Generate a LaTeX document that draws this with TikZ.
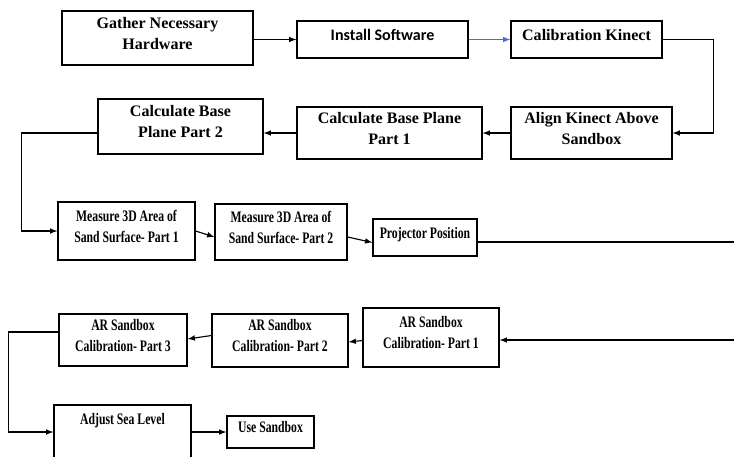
\documentclass[tikz,border=0pt]{standalone}
\usepackage{fontspec}
\setmainfont{Liberation Serif}
\newfontfamily\narrowserif[FakeStretch=0.73]{Liberation Serif}
\newfontfamily\calibrisans{Carlito}
\usetikzlibrary{calc}
\definecolor{wordblue}{RGB}{68,114,196}

\begin{document}
\begin{tikzpicture}[x=0.025cm, y=-0.025cm,
	box/.style={draw, line width=0.9pt, align=center, inner sep=2pt, text depth=7pt, font=\fontsize{11.4}{15}\selectfont\bfseries},
	narrowbox/.style={box, font=\narrowserif\fontsize{11.4}{15}\selectfont\bfseries},
	dims/.style 2 args={minimum width=#1*0.025cm, minimum height=#2*0.025cm},
	link/.style={->, >=latex, line width=0.8pt}]

	\clip (0,0) rectangle (734,456);

	\node[box, dims={191}{54}] (gather) at (157.5,38) {Gather Necessary\\Hardware};
	\node[box, dims={171}{37}, font=\calibrisans\fontsize{11.4}{15}\selectfont\bfseries] (install) at (382.5,39.5) {Install Software};
	\node[box, dims={151}{37}] (calib) at (586.5,39.5) {Calibration Kinect};

	\node[box, dims={161}{52}] (align) at (591.5,133) {Align Kinect Above\\Sandbox};
	\node[box, dims={185}{52}] (base1) at (389.5,133) {Calculate Base Plane\\Part 1};
	\node[box, dims={165}{55}] (base2) at (180.5,126.5) {Calculate Base\\Plane Part 2};

	\node[narrowbox, dims={137}{58}] (measure1) at (126.5,231) {Measure 3D Area of\\Sand Surface- Part 1};
	\node[narrowbox, dims={132}{56}] (measure2) at (281,232) {Measure 3D Area of\\Sand Surface- Part 2};
	\node[narrowbox, dims={104}{37}] (projector) at (425,237.5) {Projector Position};

	\node[narrowbox, dims={136}{59}] (sandbox1) at (431,337.5) {AR Sandbox\\Calibration- Part 1};
	\node[narrowbox, dims={136}{53}] (sandbox2) at (280,340.5) {AR Sandbox\\Calibration- Part 2};
	\node[narrowbox, dims={128}{52}] (sandbox3) at (123,340) {AR Sandbox\\Calibration- Part 3};

	\node[narrowbox, dims={137}{54}, text depth=3pt] (sealevel) at (122.5,432) {Adjust Sea Level\\\strut};
	\node[narrowbox, dims={87}{32}] (usesandbox) at (270.5,432) {Use Sandbox};

	\coordinate (rightin) at (734,340);

	\draw[link] (gather.east |- install.west) -- (install.west);
	\draw[link, wordblue] (install.east) -- (calib.west);
	\draw[link] (calib.east) -- ++(51,0) |- (align.east);
	\draw[link] (align.west) -- (base1.east);
	\draw[link] (base1.west) -- (base1.west -| base2.east);
	\draw[link] ($(base2.west)+(0,6.5)$) -- ++(-76,0) |- (measure1.west);

	\draw[link] (measure1.east) -- ($(measure2.west)+(0,5)$);
	\draw[link] ($(measure2.east)+(0,5)$) -- ($(projector.west)+(0,5)$);
	\draw[line width=0.8pt] ($(projector.east)+(0,4.5)$) -- ++(260,0);

	\draw[link] (rightin) -- (rightin -| sandbox1.east);
	\draw[link] ($(sandbox1.west)+(0,3)$) -- ($(sandbox2.east)+(0,1.5)$);
	\draw[link] ($(sandbox2.west)+(0,-5)$) -- ($(sandbox3.east)+(0,-1)$);
	\draw[link] ($(sandbox3.west)+(0,-8)$) -- ++(-50,0) |- (sealevel.west);
	\draw[link] (sealevel.east) -- (usesandbox.west);

\end{tikzpicture}
\end{document}
